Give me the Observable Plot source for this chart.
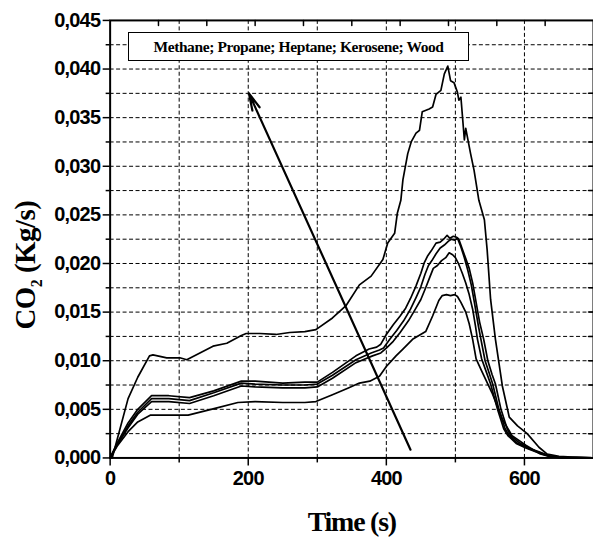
<!DOCTYPE html>
<html><head><meta charset="utf-8">
<script src="https://cdn.jsdelivr.net/npm/d3@7"></script>
<script src="https://cdn.jsdelivr.net/npm/@observablehq/plot@0.6"></script>
<style>
html,body{margin:0;padding:0;background:#fff;overflow:hidden;}
#wrap{position:relative;width:593px;height:540px;overflow:hidden;}
#legend{position:absolute;left:128px;top:32px;width:341px;height:29px;box-sizing:border-box;border:1.5px solid #000;background:#fff;font:bold 15.5px "Liberation Serif",serif;letter-spacing:-0.4px;display:flex;align-items:center;justify-content:center;color:#000;}
svg text{font-weight:bold;}
</style></head><body><div id="wrap"><div id="legend"></div></div>
<script>
// ---- data (time s, CO2 kg/s) ----
const seriesNames = ["Methane", "Propane", "Heptane", "Kerosene", "Wood"];
const legendText = "Methane; Propane; Heptane; Kerosene; Wood";
const xLabel = "Time (s)";

const methane = [[0,0],[10,0.0012],[26,0.0027],[40,0.0037],[58,0.0044],[87,0.0044],[113,0.0044],[152,0.0051],[185,0.0057],[210,0.0058],[250,0.0057],[282,0.0057],[298,0.0058],[322,0.0065],[345,0.0072],[361,0.0077],[376,0.0079],[390,0.0084],[400,0.0094],[414,0.0105],[424,0.0112],[438,0.0122],[457,0.0130],[467,0.0146],[476,0.0162],[481,0.0167],[487,0.0168],[493,0.0167],[499,0.0168],[503,0.0166],[508,0.0160],[515,0.0150],[520,0.0138],[525,0.0122],[530,0.0102],[539,0.0088],[553,0.0067],[568,0.0040],[582,0.0023],[602,0.0013],[623,0.0004],[635,0.00017],[650,0.00003],[700,0]];
const propane = [[0,0],[10,0.0013],[26,0.0031],[40,0.0045],[60,0.0058],[85,0.0058],[115,0.0056],[150,0.0064],[190,0.0074],[210,0.0073],[250,0.0072],[282,0.0072],[300,0.0073],[322,0.0082],[356,0.0098],[380,0.0105],[392,0.0108],[400,0.0113],[410,0.0120],[420,0.0129],[432,0.0141],[442,0.0153],[450,0.0163],[457,0.0175],[463,0.0186],[468,0.0195],[474,0.0198],[480,0.0203],[486,0.0206],[491,0.0211],[496,0.0209],[500,0.0206],[505,0.0199],[510,0.0190],[515,0.0180],[520,0.0168],[525,0.0153],[529,0.0136],[532,0.0122],[538,0.0102],[545,0.0088],[551,0.0076],[561,0.0050],[570,0.0030],[576,0.0023],[588,0.0015],[603,0.0010],[618,0.0006],[635,0.0002],[650,0.00005],[700,0]];
const heptane = [[0,0],[10,0.0014],[26,0.0033],[40,0.0047],[60,0.0061],[85,0.0061],[115,0.0059],[150,0.0067],[190,0.0077],[210,0.0076],[250,0.0075],[282,0.0075],[300,0.0076],[322,0.0085],[356,0.0101],[378,0.0108],[390,0.0111],[396,0.0113],[405,0.0122],[415,0.0131],[425,0.0141],[435,0.0153],[443,0.0165],[450,0.0176],[456,0.0189],[461,0.0198],[466,0.0203],[472,0.0210],[478,0.0216],[484,0.0219],[490,0.0223],[494,0.0225],[499,0.0224],[503,0.0226],[508,0.0217],[513,0.0206],[518,0.0193],[523,0.0178],[528,0.0158],[533,0.0137],[537,0.0122],[543,0.0100],[549,0.0087],[554,0.0076],[563,0.0050],[572,0.0030],[578,0.0023],[590,0.0015],[605,0.0010],[620,0.0006],[635,0.0002],[650,0.00005],[700,0]];
const kerosene = [[0,0],[10,0.0015],[26,0.0036],[40,0.0050],[60,0.0064],[85,0.0064],[115,0.0062],[150,0.0069],[190,0.0079],[210,0.0079],[250,0.0077],[282,0.0078],[300,0.0078],[322,0.0088],[356,0.0105],[375,0.0112],[386,0.0114],[392,0.0117],[400,0.0127],[410,0.0137],[420,0.0146],[428,0.0154],[435,0.0164],[443,0.0177],[450,0.0190],[455,0.0201],[460,0.0208],[465,0.0213],[472,0.0221],[478,0.0222],[483,0.0225],[488,0.0229],[492,0.0226],[497,0.0228],[502,0.0227],[505,0.0225],[510,0.0215],[515,0.0205],[520,0.0195],[525,0.0180],[530,0.0160],[535,0.0140],[541,0.0122],[547,0.0100],[553,0.0086],[558,0.0076],[566,0.0050],[575,0.0030],[580,0.0023],[592,0.0016],[607,0.0010],[622,0.0006],[637,0.0002],[652,0.00005],[700,0]];
const wood = [[0,0],[3,0],[26,0.0061],[40,0.0083],[57,0.0105],[62,0.0106],[82,0.0103],[101,0.0103],[111,0.0101],[130,0.0108],[149,0.0115],[169,0.0118],[190,0.0126],[197,0.0128],[217,0.0128],[240,0.0127],[260,0.0129],[282,0.0130],[298,0.0132],[322,0.0144],[342,0.0157],[361,0.0178],[378,0.0187],[395,0.0204],[402,0.0221],[412,0.0231],[416,0.0252],[421,0.0265],[424,0.0286],[431,0.0313],[436,0.0325],[443,0.0334],[448,0.0337],[452,0.0356],[462,0.0359],[467,0.0361],[472,0.0374],[479,0.0378],[484,0.0395],[489,0.0403],[493,0.0388],[498,0.0386],[503,0.0376],[505,0.0368],[508,0.0371],[513,0.0327],[515,0.0339],[522,0.0313],[527,0.0296],[534,0.0265],[542,0.0245],[546,0.0214],[551,0.0163],[558,0.0122],[563,0.0098],[568,0.0074],[578,0.0042],[590,0.0033],[604,0.0025],[621,0.0011],[633,0.0004],[650,0.00017],[669,0.0001],[700,0]];

const arrowFrom = [435, 0.00085];
const arrowTo = [201, 0.0375];

const xDomain = [0, 700];
const yDomain = [0, 0.045];
const xMajor = [0, 200, 400, 600];
const xMinor = [100, 300, 500];
const xGrid = [100, 200, 300, 400, 500, 600];
const yMajor = [0, 0.005, 0.010, 0.015, 0.020, 0.025, 0.030, 0.035, 0.040, 0.045];
const yMinor = [0.0025, 0.0075, 0.0125, 0.0175, 0.0225, 0.0275, 0.0325, 0.0375, 0.0425];
const yGrid = [0.0025, 0.005, 0.0075, 0.010, 0.0125, 0.015, 0.0175, 0.020, 0.0225, 0.025, 0.0275, 0.030, 0.0325, 0.035, 0.0375, 0.040, 0.0425];
const topTicks = [70, 140, 210, 280, 350, 420, 490, 560, 630];

// ---- build ----
const allSeries = [methane, propane, heptane, kerosene, wood];
const data = allSeries.flatMap((pts, i) => pts.map(([t, v]) => ({name: seriesNames[i], t, v})));
const fmt = d => d3.format(".3f")(d).replace(".", ",");
const tickShape = {draw(ctx, l) { ctx.moveTo(0, 0); ctx.lineTo(0, -l); }};
const dash = "4,2.5";

const chart = Plot.plot({
  width: 595, height: 540,
  marginTop: 20, marginLeft: 110, marginRight: 0, marginBottom: 81,
  style: {fontFamily: "'Liberation Sans', Arial, sans-serif", background: "white", color: "black"},
  x: {domain: xDomain},
  y: {domain: yDomain},
  marks: [
    Plot.ruleY(yGrid, {stroke: "#000", strokeWidth: 1, strokeDasharray: dash}),
    Plot.ruleX(xGrid, {stroke: "#000", strokeWidth: 1, strokeDasharray: dash}),
    Plot.line(data, {x: "t", y: "v", z: "name", stroke: "black", strokeWidth: 1.7, curve: "linear"}),
    Plot.arrow([{x1: arrowFrom[0], y1: arrowFrom[1], x2: arrowTo[0], y2: arrowTo[1]}], {x1: "x1", y1: "y1", x2: "x2", y2: "y2", stroke: "black", strokeWidth: 2.2, headLength: 12, headAngle: 26}),
    Plot.frame({stroke: "black", strokeWidth: 2}),
    Plot.vector(topTicks, {x: d => d, frameAnchor: "top", length: 5, rotate: 180, anchor: "start", shape: tickShape, stroke: "black", strokeWidth: 1.5}),
    Plot.vector(yGrid, {y: d => d, frameAnchor: "right", length: 5, rotate: -90, anchor: "start", shape: tickShape, stroke: "black", strokeWidth: 1.5}),
    Plot.axisX(xMajor, {tickSize: 8, tickPadding: 5, strokeWidth: 1.5, fontSize: 20, fontWeight: "bold", label: null}),
    Plot.axisX(xMinor, {tickSize: 5, strokeWidth: 1.5, tickFormat: () => "", label: null}),
    Plot.axisY(yMajor, {tickSize: 7, tickPadding: 3, strokeWidth: 1.5, fontSize: 20, fontWeight: "bold", tickFormat: fmt, label: null}),
    Plot.axisY(yMinor, {tickSize: 4, strokeWidth: 1.5, tickFormat: () => "", label: null})
  ]
});

d3.select(chart).selectAll("g[aria-label$='tick label'] text, g[aria-label$='tick label']").style("letter-spacing", "-0.8px");
document.getElementById("wrap").appendChild(chart);
document.getElementById("legend").textContent = legendText;

const svg = d3.select(chart);
svg.append("text")
  .attr("x", 353).attr("y", 533)
  .attr("text-anchor", "middle")
  .style("font-family", "'Liberation Serif', 'Times New Roman', serif")
  .style("font-size", "28px").style("font-weight", "bold").style("letter-spacing", "-1.2px")
  .text(xLabel);
const yl = svg.append("text")
  .attr("transform", "translate(35,266) rotate(-90)")
  .attr("text-anchor", "middle")
  .style("font-family", "'Liberation Serif', 'Times New Roman', serif")
  .style("font-size", "29px").style("font-weight", "bold").style("letter-spacing", "-0.5px");
yl.append("tspan").text("CO");
yl.append("tspan").attr("dy", 7).style("font-size", "16px").text("2");
yl.append("tspan").attr("dy", -7).text(" (Kg/s)");
</script></body></html>
